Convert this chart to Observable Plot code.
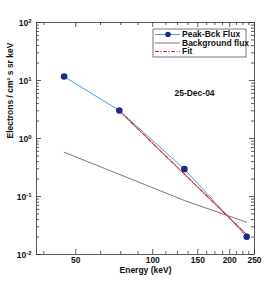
<!DOCTYPE html>
<html><head><meta charset="utf-8">
<script src="https://cdn.jsdelivr.net/npm/d3@7"></script>
<script src="https://cdn.jsdelivr.net/npm/@observablehq/plot@0.6"></script>
<style>body{margin:0;background:#fff}#chart{width:280px;height:287px}</style>
</head><body><div id="chart"></div>
<script>
const energy = [45, 74, 133, 233];
const peakFlux = [11.7, 3.04, 0.296, 0.0202];
const bgFlux = [0.58, 0.241, 0.0853, 0.036];
const fitEnergy = [74, 133, 233];
const fitFlux = [3.0, 0.243, 0.022];
const xTicks = [50, 100, 150, 200, 250];
const xMinor = [37.5, 62.5, 75, 87.5, 112.5, 125, 137.5, 162.5, 175, 187.5, 212.5, 225, 237.5];
const yTicks = [0.01, 0.1, 1, 10, 100];
const yExponents = ["-2", "-1", "0", "1", "2"];
const seriesNames = ["Peak-Bck Flux", "Background flux", "Fit"];
const dateLabel = "25-Dec-04";
const xLabel = "Energy (keV)";
const yLabel = "Electrons / cm² s sr keV";

const yMinor = [];
[0.01, 0.1, 1, 10].forEach(dec => { for (let k = 2; k <= 9; k++) yMinor.push(dec * k); });

const peak = energy.map((e, i) => ({e, f: peakFlux[i]}));
const bg = energy.map((e, i) => ({e, f: bgFlux[i]}));
const fit = fitEnergy.map((e, i) => ({e, f: fitFlux[i]}));

const W = 280, H = 287, mL = 36, mR = 26, mT = 22, mB = 33;
const pw = W - mL - mR, ph = H - mT - mB;
const axisColor = "#333";
const blue = "#3f9de0", navy = "#1c2a8c", red = "#e8202a", gray = "#555";
const font = "'Liberation Sans', Arial, sans-serif";

const plot = Plot.plot({
  width: W, height: H,
  marginLeft: mL, marginRight: mR, marginTop: mT, marginBottom: mB,
  style: {fontFamily: font, fontSize: "8.5px", fontWeight: "bold", color: "#222", background: "#fff"},
  x: {type: "log", domain: [35.1, 250], axis: null},
  y: {type: "log", domain: [0.01, 100], axis: null},
  marks: [
    Plot.ruleX(xTicks, {x: d => d, insetTop: ph - 5, stroke: axisColor, strokeWidth: 0.8}),
    Plot.ruleX(xTicks, {x: d => d, insetBottom: ph - 5, stroke: axisColor, strokeWidth: 0.8}),
    Plot.ruleX(xMinor, {x: d => d, insetTop: ph - 3, stroke: axisColor, strokeWidth: 0.8}),
    Plot.ruleX(xMinor, {x: d => d, insetBottom: ph - 3, stroke: axisColor, strokeWidth: 0.8}),
    Plot.ruleY(yTicks, {y: d => d, insetRight: pw - 5, stroke: axisColor, strokeWidth: 0.8}),
    Plot.ruleY(yTicks, {y: d => d, insetLeft: pw - 5, stroke: axisColor, strokeWidth: 0.8}),
    Plot.ruleY(yMinor, {y: d => d, insetRight: pw - 3, stroke: axisColor, strokeWidth: 0.8}),
    Plot.ruleY(yMinor, {y: d => d, insetLeft: pw - 3, stroke: axisColor, strokeWidth: 0.8}),
    Plot.text(xTicks, {x: d => d, frameAnchor: "bottom", dy: 8, text: d => String(d), fontSize: 8.5, fontWeight: "bold", fill: "#111"}),
    Plot.text(yTicks, {y: d => d, frameAnchor: "left", dx: -5, dy: 1, textAnchor: "end", text: d => yExponents[yTicks.indexOf(d)], fontSize: 8.5, fill: "#111", className: "ytick"}),
    Plot.text([xLabel], {frameAnchor: "bottom", dy: 18, text: d => d, fontSize: 8.5, fontWeight: "bold", fill: "#111"}),
    Plot.text([yLabel], {frameAnchor: "left", dx: -26, rotate: -90, text: d => d, fontSize: 8.5, fontWeight: "bold", fill: "#111"}),
    Plot.line(bg, {x: "e", y: "f", stroke: gray, strokeWidth: 0.8}),
    Plot.line(peak, {x: "e", y: "f", stroke: blue, strokeWidth: 1}),
    Plot.line(fit, {x: "e", y: "f", stroke: red, strokeWidth: 1.2, strokeDasharray: "4,1.5,1,1.5"}),
    Plot.dot(peak, {x: "e", y: "f", r: 3.3, fill: navy, stroke: "none"}),
    Plot.frame({stroke: axisColor, strokeWidth: 0.8}),
    Plot.text([dateLabel], {frameAnchor: "top", dx: 49, dy: 67, text: d => d, fontSize: 8.5, fontWeight: "bold", fill: "#111"})
  ]
});
document.getElementById("chart").appendChild(plot);

const svg = d3.select(plot);
// superscript exponents on the y tick labels
svg.selectAll("g.ytick text, .ytick text").each(function() {
  const exp = this.textContent;
  const t = d3.select(this);
  t.text("10");
  t.append("tspan").attr("dy", "-0.5em").attr("font-size", 6).text(exp);
});

// legend
const lg = svg.append("g").attr("font-size", 8.5).attr("font-weight", "bold").attr("font-family", font).attr("text-anchor", "start");
lg.append("rect").attr("x", 153).attr("y", 29).attr("width", 93).attr("height", 28).attr("fill", "#fff").attr("stroke", gray).attr("stroke-width", 0.8);
const rows = [34.5, 43, 51.5];
const styles = [
  {stroke: blue, w: 1, dash: null, dot: true},
  {stroke: gray, w: 0.8, dash: null, dot: false},
  {stroke: red, w: 1.2, dash: "4,1.5,1,1.5", dot: false}
];
seriesNames.forEach((name, i) => {
  const s = styles[i];
  lg.append("line").attr("x1", 155).attr("x2", 180).attr("y1", rows[i]).attr("y2", rows[i])
    .attr("stroke", s.stroke).attr("stroke-width", s.w).attr("stroke-dasharray", s.dash);
  if (s.dot) lg.append("circle").attr("cx", 168).attr("cy", rows[i]).attr("r", 2.8).attr("fill", navy);
  lg.append("text").attr("x", 182).attr("y", rows[i]).attr("dy", "0.35em").attr("text-anchor", "start").attr("fill", "#111").text(name);
});
</script>
</body></html>
